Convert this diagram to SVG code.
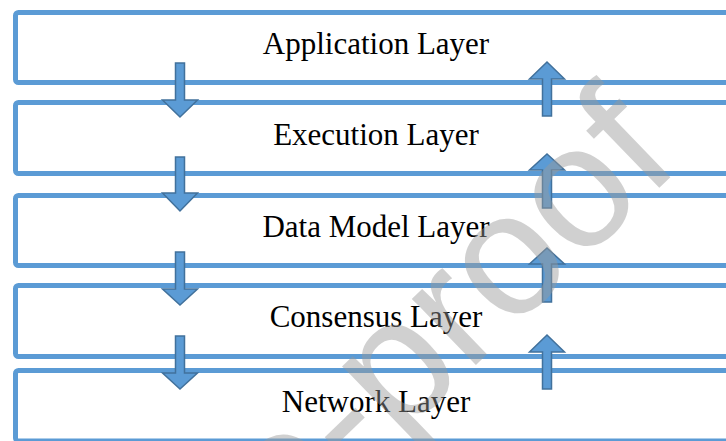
<svg xmlns="http://www.w3.org/2000/svg" width="726" height="441" viewBox="0 0 726 441">
<style>
.box{fill:#FFFFFF;stroke:#5B9BD5;stroke-width:5}
.lbl{font-family:"Liberation Serif","Times New Roman",serif;font-size:31px;fill:#000;text-anchor:middle}
.arr{fill:#5B9BD5;stroke:#41719C;stroke-width:1.5;stroke-linejoin:miter}
.wm{font-family:"Liberation Sans",Arial,sans-serif;font-size:174px;fill:#999999;opacity:0.45}
</style>
<rect width="726" height="441" fill="#FFFFFF"/>
<g id="application">
<rect class="box" x="15.5" y="12.5" width="760" height="70" rx="3"/>
<text class="lbl" x="376" y="54">Application Layer</text>
</g>
<g id="execution">
<rect class="box" x="15.5" y="102.5" width="760" height="71" rx="3"/>
<text class="lbl" x="376" y="145">Execution Layer</text>
</g>
<g id="datamodel">
<rect class="box" x="15.5" y="195.5" width="760" height="70" rx="3"/>
<text class="lbl" x="376" y="237">Data Model Layer</text>
</g>
<g id="consensus">
<rect class="box" x="15.5" y="285.5" width="760" height="71" rx="3"/>
<text class="lbl" x="376" y="327">Consensus Layer</text>
</g>
<g id="network">
<rect class="box" x="15.5" y="370.5" width="760" height="70.5" rx="3"/>
<text class="lbl" x="376" y="412">Network Layer</text>
</g>
<g id="connectors">
<path class="arr" d="M175.5,63 L184.5,63 L184.5,100 L197.5,100 L180,117 L162.5,100 L175.5,100 Z"/>
<path class="arr" d="M175.5,157 L184.5,157 L184.5,193 L197.5,193 L180,211 L162.5,193 L175.5,193 Z"/>
<path class="arr" d="M175.5,252 L184.5,252 L184.5,289 L197.5,289 L180,305 L162.5,289 L175.5,289 Z"/>
<path class="arr" d="M175.5,336 L184.5,336 L184.5,373 L197.5,373 L180,389 L162.5,373 L175.5,373 Z"/>
<path class="arr" d="M542.5,116 L551.5,116 L551.5,79 L564.5,79 L547,62 L529.5,79 L542.5,79 Z"/>
<path class="arr" d="M542.5,208 L551.5,208 L551.5,170 L564.5,170 L547,154 L529.5,170 L542.5,170 Z"/>
<path class="arr" d="M542.5,302 L551.5,302 L551.5,264 L564.5,264 L547,248 L529.5,264 L542.5,264 Z"/>
<path class="arr" d="M542.5,389 L551.5,389 L551.5,352 L564.5,352 L547,335 L529.5,352 L542.5,352 Z"/>
</g>
<text class="wm" text-anchor="end" transform="translate(683,165) rotate(-44)">Journal Pre-proof</text>
</svg>
